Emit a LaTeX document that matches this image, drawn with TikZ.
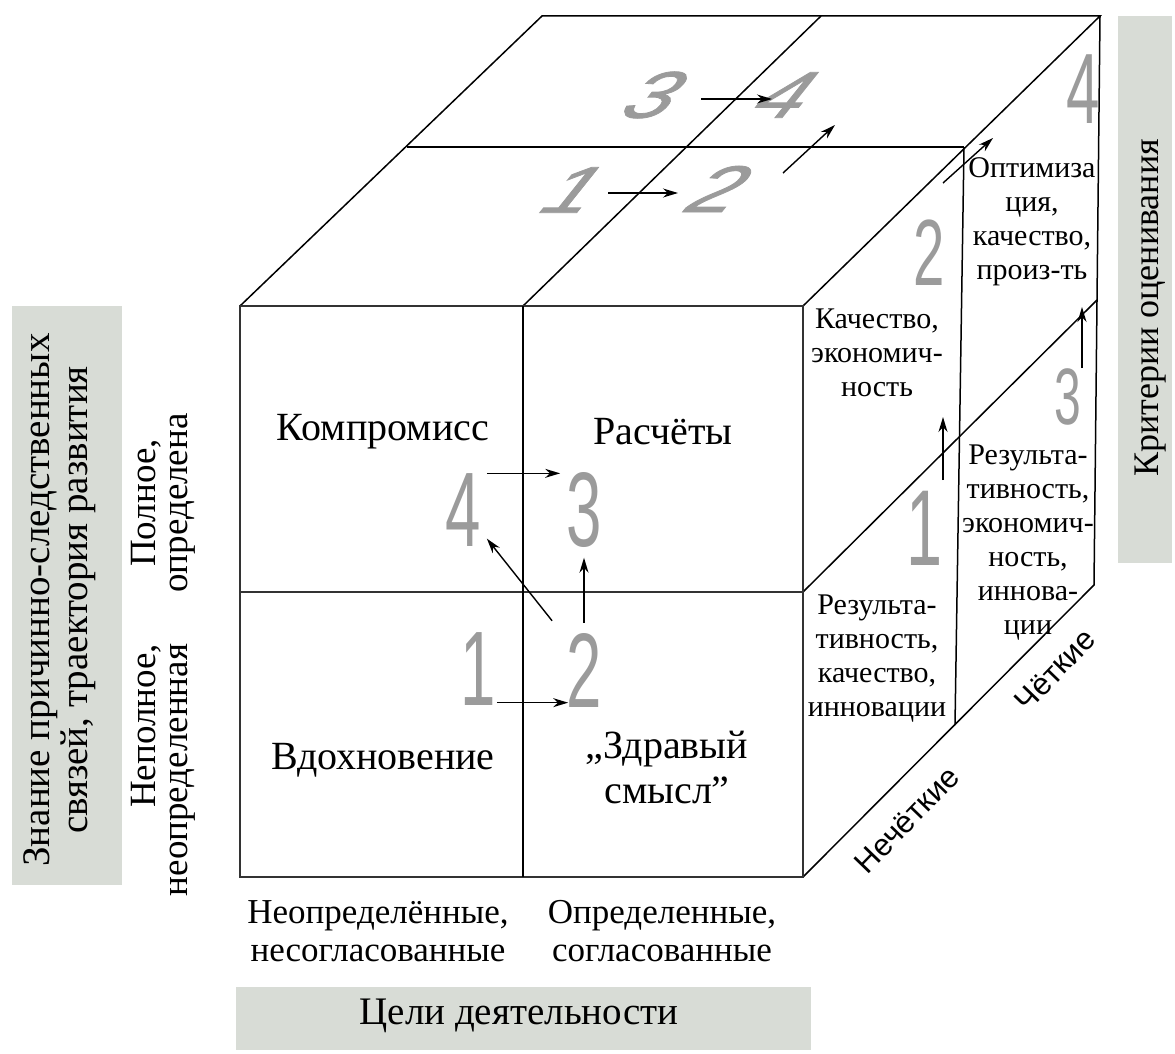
\documentclass[tikz,border=0pt]{standalone}
\usepackage{fontspec}
\setmainfont{Liberation Serif}
\newfontfamily\numfont[FakeStretch=0.6]{Liberation Sans}
\newfontfamily\topnumfont[FakeStretch=1.3,FakeSlant=0.8,FakeBold=1.2]{Liberation Sans}
\newfontfamily\axisfont{Liberation Sans}
\usetikzlibrary{arrows,arrows.meta,calc,positioning}

\definecolor{bandgray}{RGB}{216,220,214}
\definecolor{numgray}{RGB}{155,155,155}

\tikzset{
    edge/.style={line width=1.5pt},
    face/.style={line width=2.4pt, draw=black!80},
    arr/.style={-{Stealth[length=15pt,width=9pt]}, line width=1.4pt},
    lbl/.style={font=\fontsize{35}{38}\selectfont, align=center, inner sep=0pt},
    cell/.style={font=\fontsize{40}{45}\selectfont, align=center, inner sep=0pt},
    band/.style={font=\fontsize{39}{38}\selectfont, align=center, inner sep=0pt},
    side/.style={font=\fontsize{30}{34}\selectfont, align=center, inner sep=0pt},
    num/.style={text=numgray, inner sep=0pt, font=\numfont\fontsize{#1}{#1}\selectfont},
    num/.default=106,
    topnum/.style={text=numgray, inner sep=0pt, font=\topnumfont\fontsize{66}{66}\selectfont},
    axis/.style={font=\axisfont\fontsize{31}{33}\selectfont, inner sep=0pt, rotate=46},
}

\begin{document}
\begin{tikzpicture}[x=1pt,y=-1pt]
        \useasboundingbox (0,0) rectangle (1175,1054);

        % cube corners
        \coordinate (ftl) at (240,306);
        \coordinate (ftm) at (523,306);
        \coordinate (ftr) at (803,306);
        \coordinate (fml) at (240,592);
        \coordinate (fmr) at (803,592);
        \coordinate (fbl) at (240,877);
        \coordinate (fbm) at (523,877);
        \coordinate (fbr) at (803,877);
        \coordinate (btl) at (542,16);
        \coordinate (btm) at (821,16);
        \coordinate (btr) at (1100,16);
        \coordinate (mtl) at (407,147);
        \coordinate (mtr) at (964,147);
        \coordinate (brm) at (1097,300);
        \coordinate (brb) at (1094,585);
        \coordinate (mrb) at (955,725);

        % grey bands
        \fill[bandgray] (12,306) rectangle (122,885);
        \fill[bandgray] (1118,16) rectangle (1172,563);
        \fill[bandgray] (236,987) rectangle (811,1050);

        \node[band, rotate=90] (knowledge) at (60,600) {Знание причинно-следственных\\связей, траектория развития};
        \node[band, rotate=90, font=\fontsize{36}{38}\selectfont] (criteria) at (1151,308) {Критерии оценивания};
        \node[band] (goals) at (519,1016) {Цели деятельности};

        % top and right faces
        \draw[edge] (ftl) -- (btl) -- (btr) -- (ftr);
        \draw[edge] (mtl) -- (mtr);
        \draw[edge] (ftm) -- (btm);
        \draw[edge] (btr) -- (brb) -- (fbr);
        \draw[edge] (fmr) -- (brm);
        \draw[edge] (mtr) -- (mrb);

        % front face
        \draw[face] (ftl) rectangle (fbr);
        \draw[face] (fml) -- (fmr);
        \draw[edge] (ftm) -- (fbm);

        \node[cell] (compromise) at (383,432) {Компромисс};
        \node[cell] (calc) at (663,432) {Расчёты};
        \node[cell] (inspiration) at (383,760) {Вдохновение};
        \node[cell] (sense) at (667,767) {„Здравый\\смысл”};

        \node[lbl, rotate=90, font=\fontsize{37}{32}\selectfont] (full) at (163,503) {Полное,\\определена};
        \node[lbl, rotate=90, align=right, font=\fontsize{37}{32}\selectfont] (partial) at (163,770) {Неполное,\\неопределенная};
        \node[lbl] (undefgoals) at (378,931) {Неопределённые,\\несогласованные};
        \node[lbl] (defgoals) at (662,931) {Определенные,\\согласованные};

        \node[side] (qe) at (877,353) {Качество,\\экономич-\\ность};
        \node[side] (oqp) at (1032,222) {Оптимиза\\ция,\\качество,\\произ-ть};
        \node[side] (rei) at (1028,543) {Результа-\\тивность,\\экономич-\\ность,\\иннова-\\ции};
        \node[side] (rqi) at (877,659) {Результа-\\тивность,\\качество,\\инновации};

        \node[axis] (fuzzy) at (907,820) {Нечёткие};
        \node[axis] (crisp) at (1055,670) {Чёткие};

        % numbers on the front face
        \node[num] (f4) at (463,510) {4};
        \node[num] (f3) at (584,510) {3};
        \node[num] (f1) at (478,669) {1};
        \node[num] (f2) at (584,670) {2};

        \draw[arr, shorten <=6pt, shorten >=6pt] (f4.north east) -- (f4.north east -| f3.west);
        \draw[arr, shorten <=1pt, shorten >=-2pt] ([yshift=3pt]f1.south east) -- ([yshift=3pt]f1.south east -| f2.west);
        \draw[arr, shorten <=10pt, shorten >=10pt] (f2.north) -- (f3.south);
        \draw[arr] ([xshift=-14pt,yshift=12pt]f2.north west) -- ([xshift=6pt,yshift=8pt]f4.south east);

        % numbers on the top face
        \node[topnum] (t3) at (638,95) {3};
        \node[topnum] (t4) at (769,95) {4};
        \node[topnum] (t1) at (557,190) {1};
        \node[topnum] (t2) at (702,189) {2};

        \coordinate (a34s) at (701,99);
        \coordinate (a34e) at (772,99);
        \coordinate (a12s) at (608,193);
        \coordinate (a12e) at (678,193);
        \coordinate (a24s) at (783,173);
        \coordinate (a24e) at (835,125);
        \draw[arr] (a34s) -- (a34e);
        \draw[arr] (a12s) -- (a12e);
        \draw[arr] (a24s) -- (a24e);

        % numbers on the right face
        \node[num=94] (r2) at (929,253) {2};
        \node[num=108] (r1) at (925,528) {1};
        \node[num=80] (r3) at (1068,397) {3};
        \node[num=100] (r4) at (1083,89) {4};

        \coordinate (b12s) at (943,480);
        \coordinate (b12e) at (943,417);
        \coordinate (b34s) at (1082,368);
        \coordinate (b34e) at (1082,307);
        \coordinate (b24s) at (943,183);
        \coordinate (b24e) at (993,138);
        \draw[arr] (b12s) -- (b12e);
        \draw[arr] (b34s) -- (b34e);
        \draw[arr] (b24s) -- (b24e);
    \end{tikzpicture}
\end{document}
